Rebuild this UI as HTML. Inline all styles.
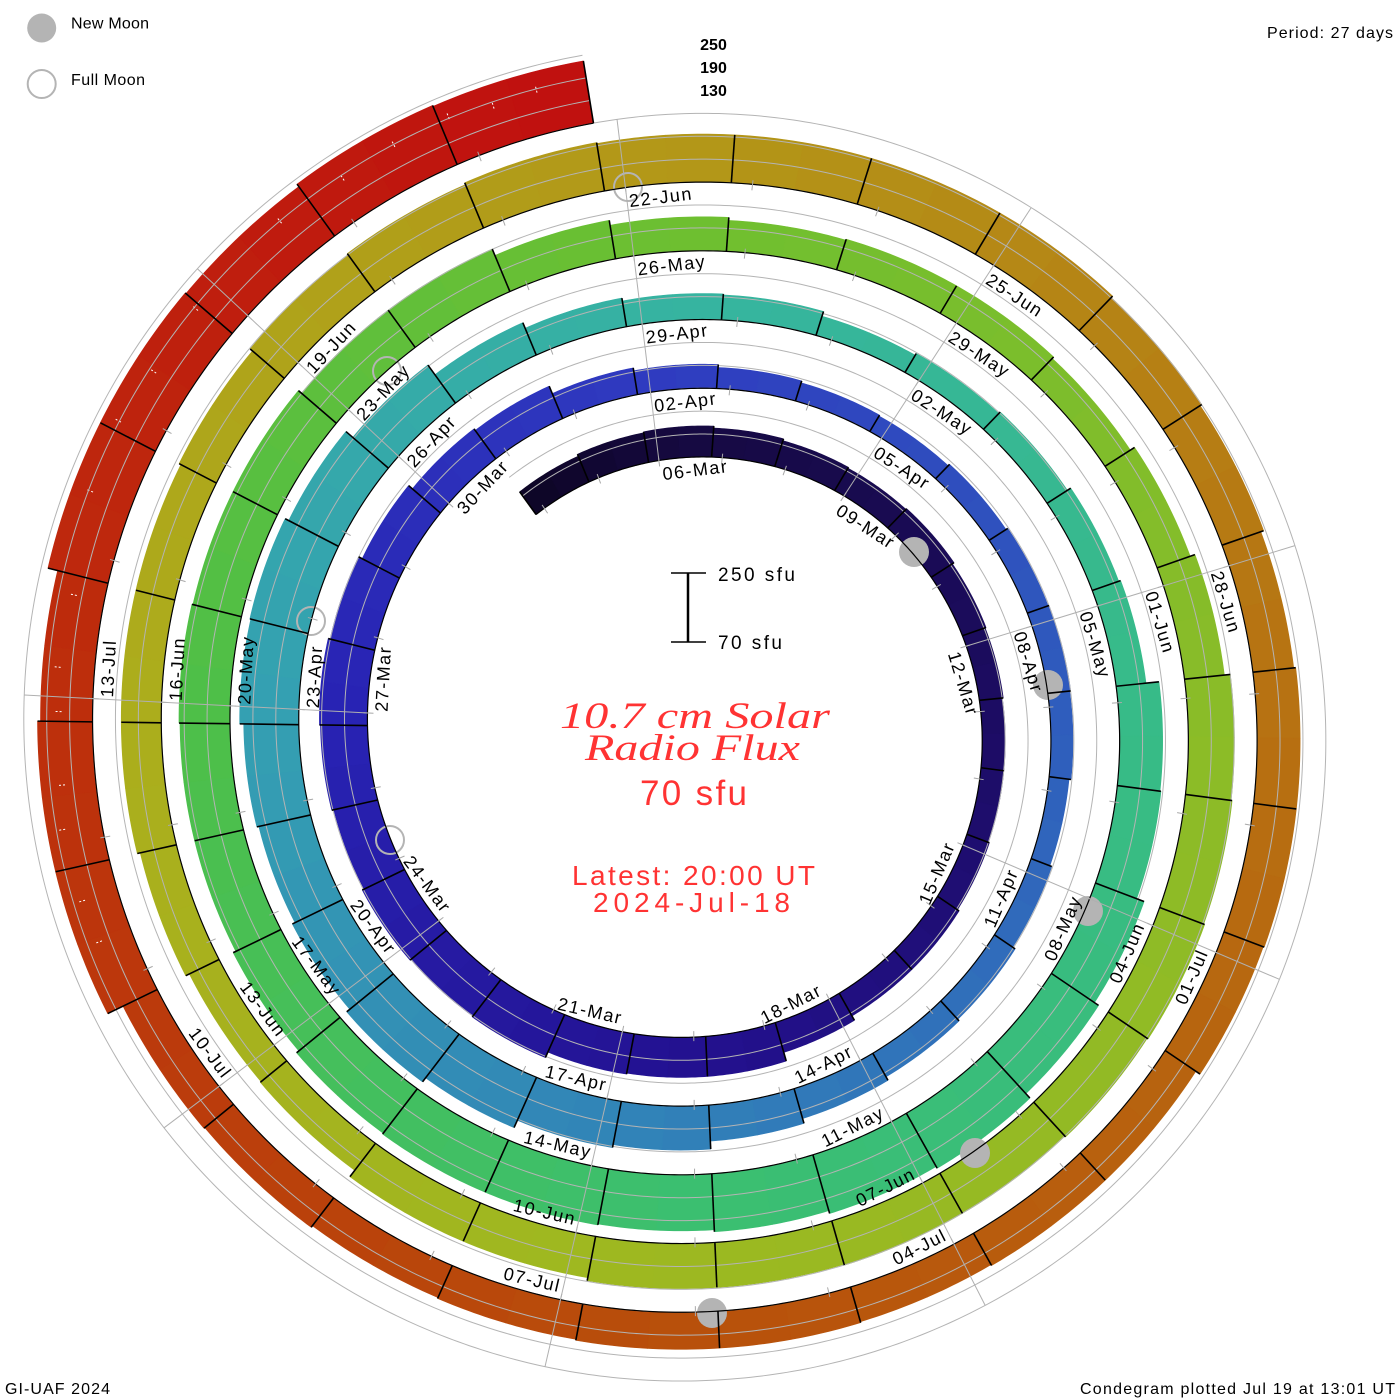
<!DOCTYPE html>
<html><head><meta charset="utf-8">
<style>
html,body{margin:0;padding:0;background:#fff;}
svg{display:block;font-family:"Liberation Sans",sans-serif;}
</style></head>
<body>
<svg id="s" width="1400" height="1400" viewBox="0 0 1400 1400" xmlns="http://www.w3.org/2000/svg">
<rect width="1400" height="1400" fill="#fff"/>
<g id="bands"></g>
<g id="dashes"></g>
<g id="levels"></g>
<g id="moons">
  <circle cx="914" cy="552" r="15" fill="#b4b4b4"/>
  <circle cx="1048" cy="685" r="15" fill="#b4b4b4"/>
  <circle cx="1088" cy="911" r="15" fill="#b4b4b4"/>
  <circle cx="975" cy="1153" r="15" fill="#b4b4b4"/>
  <circle cx="712" cy="1313" r="15" fill="#b4b4b4"/>
  <circle cx="387" cy="371" r="14" fill="none" stroke="#b4b4b4" stroke-width="2"/>
  <circle cx="628" cy="187" r="14" fill="none" stroke="#b4b4b4" stroke-width="2"/>
  <circle cx="311" cy="621" r="14" fill="none" stroke="#b4b4b4" stroke-width="2"/>
  <circle cx="390" cy="840" r="14" fill="none" stroke="#b4b4b4" stroke-width="2"/>
</g>
<g id="blacks"></g>
<g id="radials"></g>

<g font-size="18" fill="#000" letter-spacing="1.5">
<text transform="rotate(-7 692 730)" x="694" y="478.5">06-Mar</text>
<text transform="rotate(33 692 730)" x="694" y="470.9">09-Mar</text>
<text transform="rotate(73 692 730)" x="694" y="463.2">12-Mar</text>
<text transform="rotate(-67 692 730)" x="689" y="1017.4" text-anchor="end">15-Mar</text>
<text transform="rotate(-27 692 730)" x="689" y="1025.1" text-anchor="end">18-Mar</text>
<text transform="rotate(13 692 730)" x="689" y="1032.7" text-anchor="end">21-Mar</text>
<text transform="rotate(53 692 730)" x="689" y="1040.3" text-anchor="end">24-Mar</text>
<text transform="rotate(-87 692 730)" x="694" y="425.0">27-Mar</text>
<text transform="rotate(-47 692 730)" x="694" y="417.4">30-Mar</text>
<text transform="rotate(-7 692 730)" x="694" y="409.8">02-Apr</text>
<text transform="rotate(33 692 730)" x="694" y="402.1">05-Apr</text>
<text transform="rotate(73 692 730)" x="694" y="394.5">08-Apr</text>
<text transform="rotate(-67 692 730)" x="689" y="1086.2" text-anchor="end">11-Apr</text>
<text transform="rotate(-27 692 730)" x="689" y="1093.8" text-anchor="end">14-Apr</text>
<text transform="rotate(13 692 730)" x="689" y="1101.4" text-anchor="end">17-Apr</text>
<text transform="rotate(53 692 730)" x="689" y="1109.1" text-anchor="end">20-Apr</text>
<text transform="rotate(-87 692 730)" x="694" y="356.3">23-Apr</text>
<text transform="rotate(-47 692 730)" x="694" y="348.7">26-Apr</text>
<text transform="rotate(-7 692 730)" x="694" y="341.0">29-Apr</text>
<text transform="rotate(33 692 730)" x="694" y="333.4">02-May</text>
<text transform="rotate(73 692 730)" x="694" y="325.7">05-May</text>
<text transform="rotate(-67 692 730)" x="689" y="1154.9" text-anchor="end">08-May</text>
<text transform="rotate(-27 692 730)" x="689" y="1162.5" text-anchor="end">11-May</text>
<text transform="rotate(13 692 730)" x="689" y="1170.2" text-anchor="end">14-May</text>
<text transform="rotate(53 692 730)" x="689" y="1177.8" text-anchor="end">17-May</text>
<text transform="rotate(-87 692 730)" x="694" y="287.5">20-May</text>
<text transform="rotate(-47 692 730)" x="694" y="279.9">23-May</text>
<text transform="rotate(-7 692 730)" x="694" y="272.3">26-May</text>
<text transform="rotate(33 692 730)" x="694" y="264.6">29-May</text>
<text transform="rotate(73 692 730)" x="694" y="257.0">01-Jun</text>
<text transform="rotate(-67 692 730)" x="689" y="1223.6" text-anchor="end">04-Jun</text>
<text transform="rotate(-27 692 730)" x="689" y="1231.3" text-anchor="end">07-Jun</text>
<text transform="rotate(13 692 730)" x="689" y="1238.9" text-anchor="end">10-Jun</text>
<text transform="rotate(53 692 730)" x="689" y="1246.6" text-anchor="end">13-Jun</text>
<text transform="rotate(-87 692 730)" x="694" y="218.8">16-Jun</text>
<text transform="rotate(-47 692 730)" x="694" y="211.2">19-Jun</text>
<text transform="rotate(-7 692 730)" x="694" y="203.5">22-Jun</text>
<text transform="rotate(33 692 730)" x="694" y="195.9">25-Jun</text>
<text transform="rotate(73 692 730)" x="694" y="188.3">28-Jun</text>
<text transform="rotate(-67 692 730)" x="689" y="1292.4" text-anchor="end">01-Jul</text>
<text transform="rotate(-27 692 730)" x="689" y="1300.0" text-anchor="end">04-Jul</text>
<text transform="rotate(13 692 730)" x="689" y="1307.7" text-anchor="end">07-Jul</text>
<text transform="rotate(53 692 730)" x="689" y="1315.3" text-anchor="end">10-Jul</text>
<text transform="rotate(-87 692 730)" x="694" y="150.1">13-Jul</text>
</g>

<!-- top scale labels -->
<g font-size="16" font-weight="bold" fill="#000" text-anchor="middle">
<text x="713.5" y="50">250</text>
<text x="713.5" y="73">190</text>
<text x="713.5" y="96">130</text>
</g>

<!-- legend -->
<circle cx="41.7" cy="28" r="14.5" fill="#b4b4b4"/>
<circle cx="41.7" cy="84" r="14" fill="none" stroke="#b4b4b4" stroke-width="2"/>
<text x="71" y="28.6" font-size="16" textLength="78" lengthAdjust="spacing">New Moon</text>
<text x="71" y="85" font-size="16" textLength="74" lengthAdjust="spacing">Full Moon</text>
<text x="1267" y="38" font-size="16" textLength="126" lengthAdjust="spacing">Period: 27 days</text>
<text x="5" y="1394" font-size="16" textLength="105" lengthAdjust="spacing">GI-UAF 2024</text>
<text x="1080" y="1394" font-size="16" textLength="315" lengthAdjust="spacing">Condegram plotted Jul 19 at 13:01 UT</text>

<!-- scale bar -->
<line x1="688" y1="573" x2="688" y2="642" stroke="#000" stroke-width="2.5"/>
<line x1="671" y1="573" x2="706" y2="573" stroke="#000" stroke-width="1.5"/>
<line x1="671" y1="642" x2="706" y2="642" stroke="#000" stroke-width="1.5"/>
<text x="718" y="581" font-size="19" textLength="77" lengthAdjust="spacing">250 sfu</text>
<text x="718" y="649" font-size="19" textLength="64" lengthAdjust="spacing">70 sfu</text>

<!-- title -->
<g fill="#ff3333">
<text x="560" y="728" style="font-family:'Liberation Serif',serif;font-style:italic;font-size:37px" textLength="270" lengthAdjust="spacingAndGlyphs">10.7 cm Solar</text>
<text x="585" y="760" style="font-family:'Liberation Serif',serif;font-style:italic;font-size:37px" textLength="215" lengthAdjust="spacingAndGlyphs">Radio Flux</text>
<text x="640" y="805" font-size="35" textLength="107" lengthAdjust="spacing">70 sfu</text>
<text x="572" y="885" font-size="28" textLength="243" lengthAdjust="spacing">Latest: 20:00 UT</text>
<text x="593" y="912" font-size="28" textLength="197" lengthAdjust="spacing">2024-Jul-18</text>
</g>
</svg>

<script>
(function(){
var NS='http://www.w3.org/2000/svg';
var cx=692,cy=730,R0=271.5,K=2.546,W=360/27,D2R=Math.PI/180;
var T0=-2.1667,T1=134.8333;
var H=[28,30,31,29,27,26,27,25,24,23,
23,24,26,26,31,40,40,41,47,46,
47,45,47,48,46,42,37,35,27,24,
21,19,18,20,22,23,22,20,22,25,
27,31,36,44,47,55,60,56,53,55,
59,60,56,47,35,29,26,25,20,22,
24,28,30,43,44,52,57,63,61,58,
56,57,57,56,53,50,50,51,50,50,
46,46,39,34,31,32,32,30,35,40,
46,47,48,47,46,46,45,45,42,42,
34,33,37,40,40,40,42,45,47,49,
48,48,48,48,46,44,41,43,43,42,
37,37,36,37,37,36,35,37,38,55,
55,52,62,62,61,64,63];
var C=[[-2.2,[13,5,37]],[0.5,[22,10,66]],[7,[28,12,98]],[14,[35,17,144]],[21,[40,35,180]],
[27,[47,59,192]],[33.5,[47,90,189]],[41,[49,128,184]],[48,[52,160,178]],[54.5,[54,180,160]],
[61,[55,187,136]],[68,[59,191,112]],[75,[78,191,72]],[81.5,[110,191,48]],[88,[138,188,40]],
[96,[159,184,32]],[102,[172,173,28]],[108.5,[179,151,24]],[115,[183,114,18]],[122,[184,80,11]],
[129,[189,46,12]],[134.9,[192,15,15]]];
function rb(t){return R0+K*t;}
function XY(t,r){var a=(-7+W*t)*D2R;return [cx+r*Math.sin(a),cy-r*Math.cos(a)];}
function P(t,r){var p=XY(t,r);return p[0].toFixed(2)+','+p[1].toFixed(2);}
function col(t){var i=0;while(i<C.length-2&&t>C[i+1][0])i++;var a=C[i],b=C[i+1];
 var f=(t-a[0])/(b[0]-a[0]);f=Math.max(0,Math.min(1,f));
 var r=[0,1,2].map(function(k){return Math.round(a[1][k]+(b[1][k]-a[1][k])*f);});
 return 'rgb('+r.join(',')+')';}
function el(tag,at,par){var e=document.createElementNS(NS,tag);for(var k in at)e.setAttribute(k,at[k]);par.appendChild(e);return e;}
var gB=document.getElementById('bands'),gL=document.getElementById('levels'),
    gK=document.getElementById('blacks'),gR=document.getElementById('radials'),
    gD=document.getElementById('dashes');
// bands
for(var i=0;i<H.length;i++){
  var h=H[i];
  for(var s=0;s<2;s++){
    var ts=T0+i+s*0.5, te=Math.min(ts+0.5,T1);
    if(te<=ts)continue;
    var n=Math.max(2,Math.ceil((te-ts)/0.04)),pts=[];
    for(var j=0;j<=n;j++){var t=ts+(te-ts)*j/n;pts.push(P(t,rb(t)));}
    for(var j=n;j>=0;j--){var t=ts+(te-ts)*j/n;pts.push(P(t,rb(t)+h));}
    var c=col((ts+te)/2);
    el('polygon',{points:pts.join(' '),fill:c,stroke:c,'stroke-width':0.7,'stroke-linejoin':'round'},gB);
  }
}
// white dashes in last revolution
var dts=[127.3,127.6,128.1,128.4,128.9,129.2,129.7,130.4,130.9,131.3,131.8,132.6,133.1,133.5,133.9,134.2,134.5];
dts.forEach(function(t,ix){
  var i=Math.floor(t-T0);var h=H[i]||60;
  var r1=rb(t)+h-24+(ix%3)*3, r2=r1+8;
  var a=XY(t,r1),b=XY(t,r2);
  el('line',{x1:a[0],y1:a[1],x2:b[0],y2:b[1],stroke:'#fff','stroke-width':1,'stroke-dasharray':'2 2'},gD);
});
// level lines 130,190,250
[22.92,45.83,68.75].forEach(function(L){
  var pts=[];for(var t=T0;t<T1;t+=0.04)pts.push(P(t,rb(t)+L));pts.push(P(T1,rb(T1)+L));
  el('polyline',{points:pts.join(' '),fill:'none',stroke:'#b4b4b4','stroke-width':1},gL);
});
// baseline
var bp=[];for(var t=T0;t<T1;t+=0.04)bp.push(P(t,rb(t)));bp.push(P(T1,rb(T1)));
el('polyline',{points:bp.join(' '),fill:'none',stroke:'#000','stroke-width':1.2},gK);
// black measurement lines
for(var i=0;i<=H.length;i++){
  var t=T0+i;if(t>T1+1e-6)t=T1;
  var hm=Math.max(H[i-1]||0,H[i]||0);
  var a=XY(t,rb(t)),b=XY(t,rb(t)+hm);
  el('line',{x1:a[0],y1:a[1],x2:b[0],y2:b[1],stroke:'#000','stroke-width':1.6},gK);
}
// day ticks
for(var d=-2;d<=134;d++){
  var a=XY(d,rb(d)-6),b=XY(d,rb(d)+4);
  el('line',{x1:a[0],y1:a[1],x2:b[0],y2:b[1],stroke:'#a8a8a8','stroke-width':1},gR);
}
// radial grid lines every 3 days
for(var k=0;k<9;k++){
  var tmin=null,tmax=null;
  for(var m=-2;m<7;m++){var t=3*k+27*m;if(t>=T0&&t<=T1){if(tmin===null)tmin=t;tmax=t;}}
  if(tmin===null)continue;
  var a=XY(tmin,rb(tmin)-3),b=XY(tmax,rb(tmax)+68.75);
  el('line',{x1:a[0],y1:a[1],x2:b[0],y2:b[1],stroke:'#b0b0b0','stroke-width':1},gR);
}
})();
</script>
</body></html>
